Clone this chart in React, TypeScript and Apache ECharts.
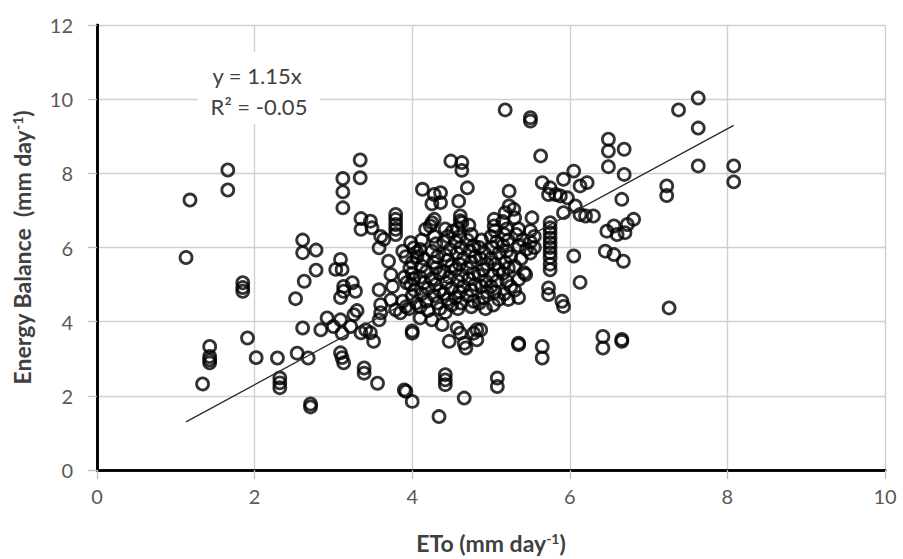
import React, { useEffect, useRef } from "react";
import * as echarts from "echarts";

// ETo (mm/day) and Energy Balance (mm/day) readings
const etoValues: number[] = [
  1.13, 1.18, 1.34, 1.43, 1.43, 1.43, 1.43, 1.66, 1.66, 1.85, 1.85, 1.85, 1.91, 2.02, 2.29, 2.32, 2.32, 2.32,
  2.52, 2.54, 2.61, 2.61, 2.61, 2.63, 2.68, 2.71, 2.71, 2.78, 2.78, 2.84, 2.92, 3.0, 3.03, 3.12, 3.12, 3.12,
  3.09, 3.09, 3.09, 3.09, 3.11, 3.11, 3.11, 3.13, 3.13, 3.13, 3.22, 3.24, 3.26, 3.28, 3.3, 3.34, 3.34,
  3.35, 3.39, 3.39, 3.41, 3.47, 3.51, 3.35, 3.35, 3.47, 3.49, 3.56, 3.58, 3.6, 3.6, 3.58, 3.6, 3.58, 3.64,
  3.7, 3.73, 3.75, 3.73, 3.79, 3.85, 3.79, 3.79, 3.79, 3.79, 3.79, 3.9, 3.92, 4.0, 3.98, 4.02, 4.06, 4.0, 4.0,
  4.13, 4.28, 4.25, 4.36, 4.36, 4.34, 4.38, 4.42, 4.42, 4.42, 4.49, 4.63, 4.63, 4.7, 4.59, 4.61, 4.63, 4.61,
  4.28, 4.23, 4.17, 4.25, 4.51, 4.47, 4.57, 4.61, 4.66, 4.68, 4.66, 4.78, 4.82, 4.82, 4.87, 5.04, 5.04, 5.08,
  5.08, 5.18, 5.5, 5.5, 5.63, 5.23, 5.23, 5.29, 5.18, 5.52,
  5.75, 5.75, 5.75, 5.75, 5.75, 5.75, 5.75, 5.75, 5.75, 5.75,
  5.73, 5.73, 5.9, 5.92, 5.35, 5.35, 5.65, 5.65, 6.05, 6.13,
  6.05, 5.92, 6.22, 6.13, 5.65, 5.75, 5.82, 5.73, 5.88, 5.97, 6.07, 5.92, 6.13, 6.3, 6.2,
  6.81, 6.73, 6.7, 6.6, 6.47, 6.56, 6.45, 6.56, 6.68,
  6.49, 6.49, 6.49, 6.69, 6.69, 6.66, 7.23, 7.23, 7.26, 6.42, 6.42, 6.66, 6.66,
  7.38, 7.63, 7.63, 7.63, 8.08, 8.08,
  4.0, 3.97, 4.0, 4.02, 3.98, 4.03, 4.0, 4.05, 3.96, 4.06,
  4.12, 4.1, 4.15, 4.12, 4.18, 4.1, 4.15, 4.2, 4.12, 4.18, 4.1, 4.2,
  4.28, 4.3, 4.25, 4.32, 4.27, 4.3, 4.35, 4.25, 4.3, 4.35, 4.28, 4.32, 4.35,
  4.42, 4.45, 4.4, 4.48, 4.42, 4.45, 4.5, 4.4, 4.47, 4.43, 4.5, 4.4, 4.45, 4.5, 4.42,
  4.58, 4.6, 4.55, 4.62, 4.57, 4.65, 4.6, 4.55, 4.63, 4.58, 4.65, 4.6, 4.55, 4.62, 4.58,
  4.72, 4.75, 4.7, 4.78, 4.73, 4.8, 4.75, 4.7, 4.78, 4.72, 4.8, 4.75, 4.7, 4.78, 4.75,
  4.88, 4.85, 4.92, 4.87, 4.95, 4.9, 4.85, 4.93, 4.88, 4.95, 4.9, 4.85, 4.93,
  5.05, 5.0, 5.07, 5.02, 5.1, 5.0, 5.05, 5.1, 5.02, 5.08, 5.0, 5.05, 5.1, 5.03,
  5.15, 5.2, 5.17, 5.22, 5.15, 5.2, 5.25, 5.18, 5.22, 5.15, 5.2, 5.25, 5.17, 5.22,
  5.3, 5.35, 5.32, 5.4, 5.35, 5.45, 5.42, 5.35, 5.44, 5.3, 5.38, 5.3, 5.35,
  5.5, 5.55, 5.5, 5.55, 5.5,
  3.88, 3.92, 3.9, 3.93, 3.88, 3.92, 4.1, 4.25,
];

const energyBalanceValues: number[] = [
  5.73, 7.28, 2.32, 3.33, 3.06, 2.97, 2.89, 8.09, 7.55, 5.05, 4.92, 4.82, 3.56, 3.03, 3.02, 2.48, 2.35, 2.22,
  4.62, 3.15, 6.2, 5.86, 3.83, 5.09, 3.02, 1.78, 1.7, 5.93, 5.39, 3.78, 4.1, 3.87, 5.41, 7.86, 7.5, 7.07,
  5.68, 4.65, 4.05, 3.16, 5.41, 3.69, 3.03, 4.95, 4.82, 2.89, 3.87, 5.05, 4.19, 4.82, 4.3, 8.36, 7.88,
  3.7, 2.75, 2.61, 3.78, 3.7, 3.47, 6.78, 6.49, 6.71, 6.53, 2.34, 4.86, 4.46, 4.24, 4.05, 6.3, 5.99, 6.22,
  5.63, 5.27, 4.95, 4.59, 4.32, 4.24, 6.89, 6.76, 6.62, 6.49, 6.35, 2.16, 2.12, 1.85, 6.13, 5.99, 5.86, 3.69, 3.75,
  7.57, 7.43, 7.18, 7.21, 7.48, 1.44, 3.92, 2.57, 2.43, 2.3, 8.33, 8.29, 8.08, 7.61, 7.25, 6.85, 6.67, 6.72,
  6.76, 6.58, 6.49, 6.67, 6.44, 3.47, 3.83, 3.69, 3.42, 3.29, 1.94, 3.69, 3.51, 3.78, 3.78, 6.76, 6.58, 2.48,
  2.25, 9.71, 9.5, 9.41, 8.47, 7.52, 7.12, 7.03, 6.94, 6.8,
  6.67, 6.53, 6.4, 6.26, 6.13, 6.0, 5.86, 5.73, 5.55, 5.4,
  4.91, 4.73, 4.55, 4.41, 3.42, 3.38, 3.33, 3.02, 5.77, 5.06,
  8.06, 7.84, 7.75, 7.66, 7.75, 7.61, 7.43, 7.43, 7.39, 7.34, 7.12, 6.94, 6.89, 6.85, 6.85,
  6.76, 6.62, 6.4, 6.35, 6.44, 6.58, 5.9, 5.81, 5.63,
  8.92, 8.6, 8.18, 8.65, 7.97, 7.3, 7.66, 7.4, 4.37, 3.6, 3.29, 3.47, 3.52,
  9.71, 10.03, 9.22, 8.2, 8.2, 7.77,
  5.6, 5.45, 5.3, 5.15, 5.0, 4.85, 4.7, 4.5, 4.35, 5.75,
  6.2, 5.95, 5.7, 5.5, 5.35, 5.2, 5.05, 4.9, 4.75, 4.55, 4.4, 4.3,
  6.3, 6.1, 5.9, 5.75, 5.6, 5.45, 5.3, 5.15, 5.0, 4.85, 4.7, 4.5, 4.35,
  6.5, 6.3, 6.15, 5.95, 5.8, 5.65, 5.5, 5.35, 5.2, 5.05, 4.9, 4.75, 4.6, 4.45, 4.25,
  6.5, 6.3, 6.15, 6.0, 5.85, 5.7, 5.55, 5.4, 5.25, 5.1, 4.95, 4.8, 4.65, 4.5, 4.35,
  6.6, 6.35, 6.2, 6.05, 5.9, 5.75, 5.6, 5.45, 5.3, 5.15, 5.0, 4.85, 4.7, 4.55, 4.4,
  6.2, 6.0, 5.85, 5.7, 5.55, 5.4, 5.25, 5.1, 4.95, 4.8, 4.65, 4.5, 4.35,
  6.45, 6.3, 6.15, 6.0, 5.85, 5.7, 5.55, 5.4, 5.25, 5.1, 4.95, 4.8, 4.6, 4.45,
  6.7, 6.5, 6.35, 6.2, 6.05, 5.9, 5.75, 5.6, 5.45, 5.3, 5.1, 4.95, 4.75, 4.6,
  6.8, 6.5, 6.35, 6.2, 6.05, 5.95, 5.32, 5.14, 5.27, 5.5, 5.7, 4.85, 4.65,
  6.45, 6.3, 6.15, 6.0, 5.85,
  5.9, 5.75, 5.2, 5.05, 4.55, 4.4, 4.1, 4.05,
];

const TREND_SLOPE = 1.15;
const EQUATION_TEXT = "y = 1.15x";
const R2_TEXT = "R² = -0.05";
const xTicks = [0, 2, 4, 6, 8, 10];
const yTicks = [0, 2, 4, 6, 8, 10, 12];

const FONT = "Lato, 'Open Sans', sans-serif";

export default function App() {
  const ref = useRef<HTMLDivElement>(null);

  useEffect(() => {
    if (!ref.current) return;
    const chart = echarts.init(ref.current, undefined, { renderer: "svg" });
    const points = etoValues.map((x, i) => [x, energyBalanceValues[i]]);
    const xMinData = Math.min(...etoValues);
    const xMaxData = Math.max(...etoValues);
    const trend = [
      [xMinData, TREND_SLOPE * xMinData],
      [xMaxData, TREND_SLOPE * xMaxData],
    ];

    const axisLineStyle = { lineStyle: { color: "#000", width: 2.6 } };
    const label = { color: "#595959", fontSize: 20, fontFamily: FONT };
    const nameRich = {
      a: { fontSize: 23, fontWeight: "bold", color: "#404040", fontFamily: FONT },
      sup: { fontSize: 14, fontWeight: "bold", color: "#404040", fontFamily: FONT, verticalAlign: "top" },
    };

    chart.setOption({
      animation: false,
      backgroundColor: "#fff",
      grid: { left: 97, right: 18, top: 25, bottom: 89, containLabel: false },
      xAxis: [
        {
          type: "value",
          min: xTicks[0],
          max: xTicks[xTicks.length - 1],
          interval: 2,
          position: "bottom",
          axisLine: axisLineStyle,
          axisTick: { show: true, length: 9, lineStyle: { color: "#bfbfbf", width: 1.3 } },
          axisLabel: { ...label, margin: 16 },
          splitLine: { show: true, lineStyle: { color: "#cfcfcf", width: 1.4 } },
          name: "{a|ETo (mm day}{sup|-1}{a|)}",
          nameLocation: "middle",
          nameGap: 61,
          nameTextStyle: { rich: nameRich },
        },
        {
          type: "value",
          min: xTicks[0],
          max: xTicks[xTicks.length - 1],
          interval: 2,
          position: "top",
          axisLine: axisLineStyle,
          axisTick: { show: false },
          axisLabel: { show: false },
          splitLine: { show: false },
        },
      ],
      yAxis: [
        {
          type: "value",
          min: yTicks[0],
          max: yTicks[yTicks.length - 1],
          interval: 2,
          position: "left",
          axisLine: axisLineStyle,
          axisTick: { show: true, length: 9, lineStyle: { color: "#bfbfbf", width: 1.3 } },
          axisLabel: { ...label, margin: 24 },
          splitLine: { show: true, lineStyle: { color: "#cfcfcf", width: 1.4 } },
          name: "{a|Energy Balance  (mm day}{sup|-1}{a|)}",
          nameLocation: "middle",
          nameGap: 64,
          nameTextStyle: { rich: nameRich },
        },
        {
          type: "value",
          min: yTicks[0],
          max: yTicks[yTicks.length - 1],
          interval: 2,
          position: "right",
          axisLine: axisLineStyle,
          axisTick: { show: false },
          axisLabel: { show: false },
          splitLine: { show: false },
        },
      ],
      series: [
        {
          type: "scatter",
          data: points,
          symbol: "circle",
          symbolSize: 12,
          itemStyle: { color: "rgba(255,255,255,0)", borderColor: "#000", borderWidth: 2.8 },
          z: 3,
        },
        {
          type: "line",
          data: trend,
          showSymbol: false,
          symbol: "none",
          lineStyle: { color: "#2b2b2b", width: 1.3 },
          z: 4,
        },
      ],
      graphic: [
        {
          type: "rect",
          shape: { x: 198, y: 52, width: 122, height: 72 },
          style: { fill: "#fff" },
          z: 10,
        },
        {
          type: "text",
          x: 257,
          y: 75,
          style: {
            text: EQUATION_TEXT,
            fontSize: 22,
            fontFamily: FONT,
            fill: "#404040",
            textAlign: "center",
            textVerticalAlign: "middle",
          },
          z: 11,
        },
        {
          type: "text",
          x: 259,
          y: 106,
          style: {
            text: R2_TEXT,
            fontSize: 22,
            fontFamily: FONT,
            fill: "#404040",
            textAlign: "center",
            textVerticalAlign: "middle",
          },
          z: 11,
        },
      ],
    });

    return () => chart.dispose();
  }, []);

  return (
    <div
      ref={ref}
      style={{ position: "fixed", left: 0, top: 0, width: 903, height: 559, background: "#fff" }}
    />
  );
}
